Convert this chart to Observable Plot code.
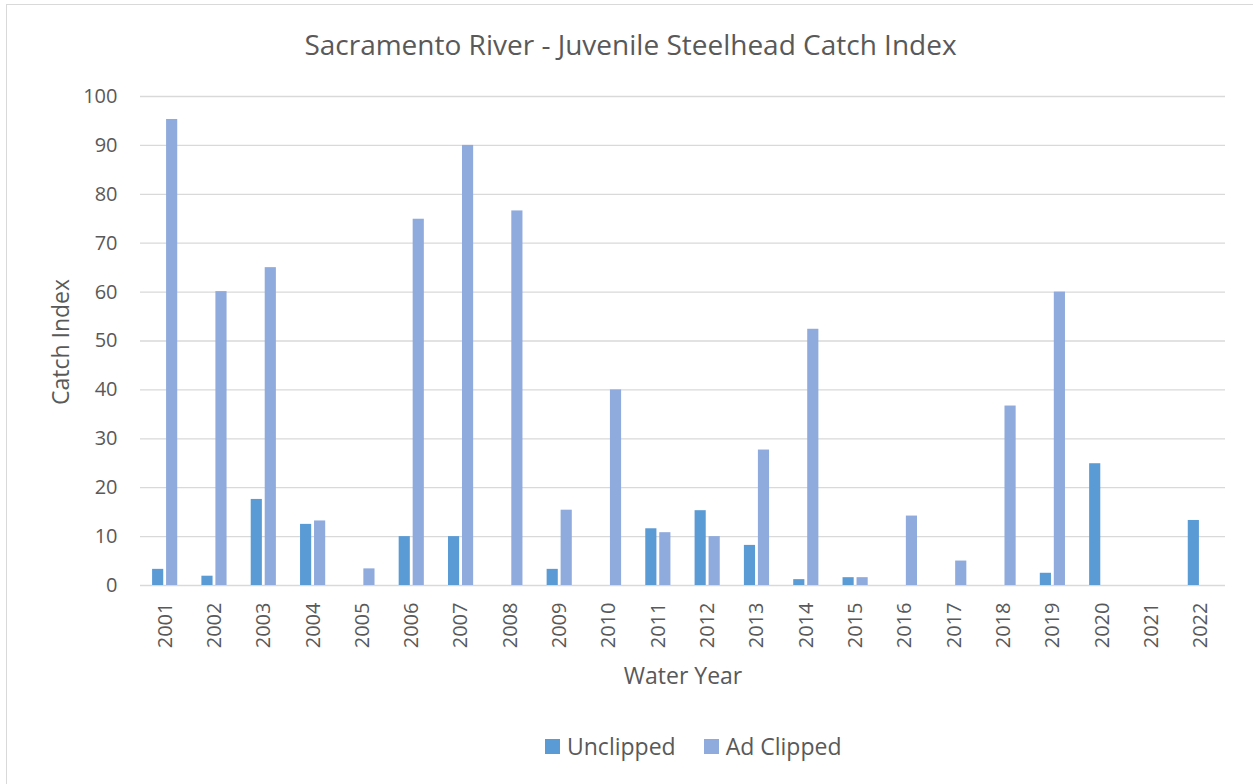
<!DOCTYPE html>
<html>
<head>
<meta charset="utf-8">
<script src="https://cdn.jsdelivr.net/npm/d3@7"></script>
<script src="https://cdn.jsdelivr.net/npm/@observablehq/plot@0.6"></script>
<style>
  html, body { margin: 0; padding: 0; background: #fff; }
  #wrap { position: relative; width: 1253px; height: 784px; overflow: hidden; font-family: "Open Sans", sans-serif; color: #595959; }
  #frame { position: absolute; left: 6px; top: 4px; width: 1300px; height: 900px; border: 1px solid #d9d9d9; box-sizing: border-box; }
  #chart { position: absolute; left: 0; top: 0; }
  #title { position: absolute; left: 0; width: 1253px; top: 25px; text-align: center; font-size: 28px; line-height: 38px; margin-left: 4px; white-space: nowrap; }
  .axtitle { position: absolute; font-size: 23px; line-height: 30px; white-space: nowrap; }
  #ytitle { left: 60px; top: 342px; transform: translate(-50%, -50%) rotate(-90deg); }
  #xtitle { left: 683px; top: 675px; transform: translate(-50%, -50%); }
  #legend { position: absolute; top: 731px; left: 545px; display: flex; font-size: 23px; line-height: 30px; white-space: nowrap; }
  .item { display: flex; align-items: center; margin-right: 28px; }
  .sw { width: 15px; height: 15px; margin-right: 7px; }
</style>
</head>
<body>
<div id="wrap">
  <div id="frame"></div>
  <div id="chart"></div>
  <div id="title">Sacramento River - Juvenile Steelhead Catch Index</div>
  <div class="axtitle" id="ytitle">Catch Index</div>
  <div class="axtitle" id="xtitle">Water Year</div>
  <div id="legend"></div>
</div>
<script>
const years = ["2001","2002","2003","2004","2005","2006","2007","2008","2009","2010","2011",
               "2012","2013","2014","2015","2016","2017","2018","2019","2020","2021","2022"];
const unclipped = [3.3, 1.9, 17.6, 12.5, null, 10.0, 10.0, null, 3.3, null, 11.6,
                   15.3, 8.2, 1.2, 1.6, null, null, null, 2.5, 24.9, null, 13.3];
const adClipped = [95.3, 60.1, 65.0, 13.2, 3.4, 74.9, 90.0, 76.6, 15.4, 40.0, 10.8,
                   10.0, 27.7, 52.4, 1.6, 14.2, 5.0, 36.7, 60.0, null, null, null];
const yTicks = [0, 10, 20, 30, 40, 50, 60, 70, 80, 90, 100];
const seriesNames = ["Unclipped", "Ad Clipped"];
const seriesColors = ["#5B9BD5", "#8FAADC"];

const rowsU = years.map((y, i) => ({year: y, value: unclipped[i]})).filter(d => d.value != null);
const rowsA = years.map((y, i) => ({year: y, value: adClipped[i]})).filter(d => d.value != null);

const chart = Plot.plot({
  width: 1253,
  height: 784,
  marginLeft: 140,
  marginRight: 28,
  marginTop: 96,
  marginBottom: 199,
  style: { fontFamily: "Open Sans, sans-serif", fontSize: "20px", color: "#595959", background: "transparent" },
  x: { type: "band", domain: years, round: false, paddingInner: 0.49, paddingOuter: 0.245, tickSize: 0, tickPadding: 17, tickRotate: -90, label: null },
  y: { domain: [0, 100], ticks: yTicks, tickSize: 0, tickPadding: 23, label: null, tickFormat: d => String(d) },
  marks: [
    Plot.ruleY(yTicks, { stroke: "#d9d9d9", strokeWidth: 1.3 }),
    Plot.barY(rowsU, { x: "year", y: "value", fill: seriesColors[0], insetRight: 14 }),
    Plot.barY(rowsA, { x: "year", y: "value", fill: seriesColors[1], insetLeft: 14 })
  ]
});
document.getElementById("chart").appendChild(chart);

const legend = document.getElementById("legend");
seriesNames.forEach((name, i) => {
  const item = document.createElement("div");
  item.className = "item";
  const sw = document.createElement("div");
  sw.className = "sw";
  sw.style.background = seriesColors[i];
  const label = document.createElement("span");
  label.textContent = name;
  item.appendChild(sw);
  item.appendChild(label);
  legend.appendChild(item);
});
</script>
</body>
</html>
